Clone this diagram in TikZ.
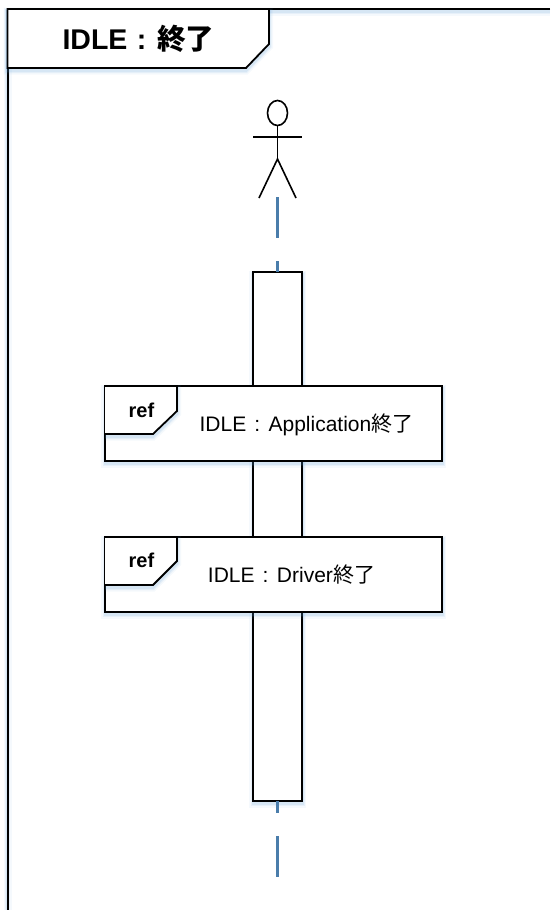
\documentclass[tikz,border=0pt]{standalone}
\usepackage{fontspec}
\setmainfont{Liberation Sans}
\newfontfamily\cjk{Noto Sans CJK JP}
\usetikzlibrary{shapes.geometric}
\definecolor{lifeblue}{HTML}{4A7DAB}
\definecolor{halo}{HTML}{5B9BD5}
\tikzset{
  softshadow/.style={
    preaction={draw=halo,line width=8pt,opacity=.06,transform canvas={yshift=-2.5pt}},
    preaction={draw=halo,line width=5pt,opacity=.09,transform canvas={yshift=-2.5pt}},
    preaction={draw=halo,line width=3pt,opacity=.12,transform canvas={yshift=-2.5pt}}},
  outline/.style={draw=black,line width=1.8pt,line join=miter},
  stick/.style={draw=black,line width=1.6pt},
  boxnode/.style={outline,softshadow,fill=white,inner sep=0pt,outer sep=0pt,rectangle,anchor=north west},
  lifeline/.style={draw=lifeblue,line width=2.2pt},
  reflabel/.style={font=\fontsize{21}{24}\selectfont,inner sep=0pt,anchor=base},
  tabshape/.style={outline,softshadow,fill=white}
}
\begin{document}
\begin{tikzpicture}[x=1pt,y=-1pt]
\useasboundingbox (0,0) rectangle (550,910);
% outer frame: soft shadow first, then the black line on its own
\path[softshadow] (550,9) -- (7.5,9) -- (7.5,910);
\draw[outline,line width=2pt] (550,9) -- (7.5,9) -- (7.5,910);
% frame title tab
\draw[tabshape] (7.5,9) -- (269,9) -- (269,44) -- (246,68) -- (7.5,68) -- cycle;
\node[inner sep=0pt,anchor=base] (title) at (138.5,49)
  {\fontsize{28.5}{32}\selectfont\bfseries IDLE\hspace{9.5pt}:\hspace{11pt}{\cjk 終了}};
% actor
\node[ellipse,draw=black,line width=1.6pt,minimum width=20pt,minimum height=25pt,inner sep=0pt,outer sep=0pt] (head) at (277.5,113) {};
\coordinate (hip) at (277.5,159);
\coordinate (armL) at (253,137);
\coordinate (armR) at (302,137);
\coordinate (legL) at (259,198);
\coordinate (legR) at (296,198);
\coordinate (lifetop) at (277.5,197);
\coordinate (lifeend) at (277.5,877);
\draw[stick] (head.south) -- (hip);
\draw[stick] (armL) -- (armR);
\draw[stick] (legL) -- (hip) -- (legR);
% activation bar
\node[boxnode,minimum width=49pt,minimum height=529pt] (bar) at (253,272) {};
% lifelines
\draw[lifeline,dash pattern=on 41pt off 23pt] (lifetop) -- (bar.north);
\draw[lifeline,dash pattern=on 12pt off 23pt on 41pt off 100pt] (bar.south) -- (lifeend);
% ref 1
\node[boxnode,minimum width=337pt,minimum height=75pt] (refA) at (105,386) {};
\draw[tabshape] (105,386) -- (177,386) -- (177,411) -- (153,434) -- (105,434);
\node[reflabel,font=\fontsize{20}{24}\selectfont\bfseries] (refAtag) at (141.5,417) {ref};
\node[reflabel] (refAtext) at (306.5,431) {IDLE\hspace{8pt}:\hspace{8.5pt}Application{\cjk 終了}};
% ref 2
\node[boxnode,minimum width=337pt,minimum height=75pt] (refB) at (105,537) {};
\draw[tabshape] (105,537) -- (177,537) -- (177,561) -- (153,585) -- (105,585);
\node[reflabel,font=\fontsize{20}{24}\selectfont\bfseries] (refBtag) at (141.5,567) {ref};
\node[reflabel] (refBtext) at (291.5,582) {IDLE\hspace{8pt}:\hspace{8.5pt}Driver{\cjk 終了}};
\end{tikzpicture}
\end{document}
